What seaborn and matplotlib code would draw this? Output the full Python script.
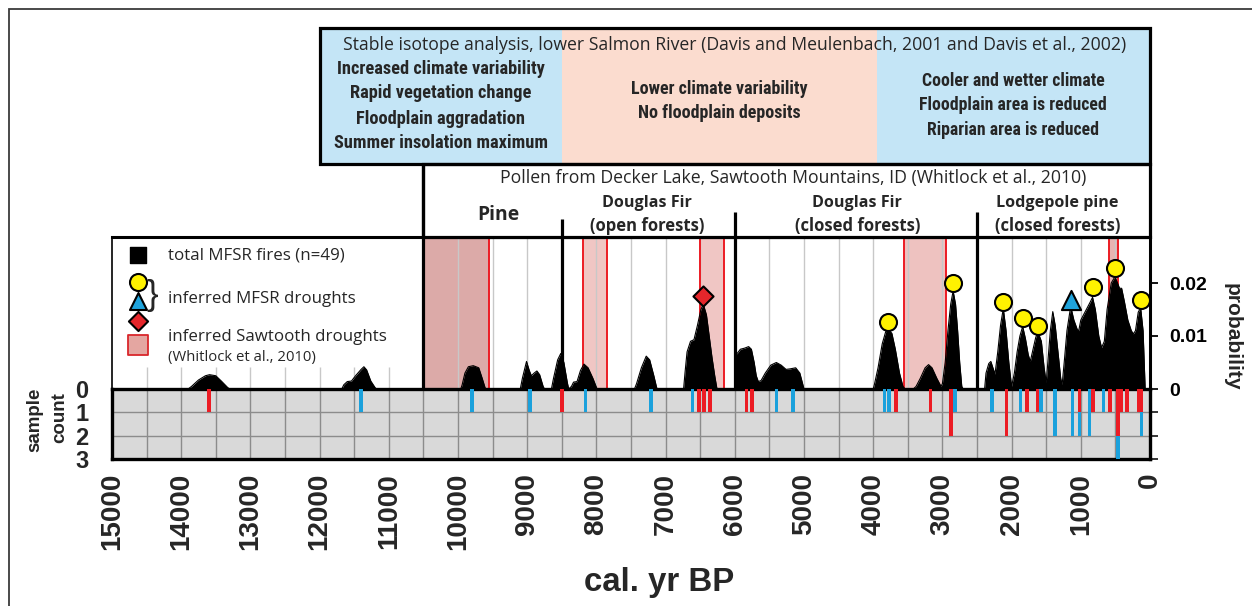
import numpy as np
import matplotlib
matplotlib.use("Agg")
import matplotlib.pyplot as plt
import matplotlib.font_manager as fm
from matplotlib.patches import Rectangle
import seaborn as sns

# ---------------- data ----------------
curve_year = [15000, 13900, 13850, 13750, 13650, 13590, 13500, 13420, 13330, 13300,
              11680, 11650, 11600, 11540, 11480, 11400, 11360, 11320, 11260, 11200, 11180,
              9960, 9940, 9900, 9850, 9780, 9700, 9650, 9610, 9600,
              9100, 9070, 9010, 8970, 8940, 8900, 8860, 8820, 8770, 8750,
              8650, 8620, 8560, 8515, 8470, 8420, 8400, 8360, 8330, 8280, 8230, 8180,
              8120, 8050, 8000, 7990,
              7450, 7420, 7350, 7280, 7230, 7170, 7130, 7120,
              6740, 6720, 6690, 6640, 6590, 6540, 6490, 6455, 6410, 6370, 6330, 6290, 6260, 6250,
              5990, 5985, 5960, 5920, 5860, 5800, 5760, 5720, 5690, 5660, 5620, 5560, 5480,
              5400, 5330, 5260, 5200, 5120, 5060, 5010, 5000,
              4000, 3980, 3930, 3870, 3820, 3780, 3730, 3680, 3620, 3570, 3540,
              3420, 3380, 3320, 3250, 3200, 3150, 3080, 3020, 3000, 2960, 2920, 2880, 2845,
              2810, 2780, 2750, 2720, 2700,
              2390, 2370, 2330, 2300, 2270, 2240, 2200, 2160, 2120, 2080, 2040, 2000, 1960,
              1920, 1880, 1840, 1800, 1760, 1730, 1690, 1650, 1615, 1570, 1530, 1500, 1470,
              1440, 1405, 1370, 1330, 1290, 1270, 1240, 1200, 1146, 1100, 1050, 1030, 1000,
              960, 900, 860, 830, 790, 740, 700, 660, 620, 560, 506, 470, 440, 410, 370, 320,
              270, 240, 210, 170, 135, 100, 75, 70, 0]
curve_prob = [0, 0, 0.0005, 0.0017, 0.0025, 0.0027, 0.0025, 0.0015, 0.0003, 0,
              0, 0.0008, 0.0014, 0.0015, 0.0025, 0.0037, 0.0042, 0.0036, 0.0015, 0.0003, 0,
              0, 0.0008, 0.0030, 0.0042, 0.0044, 0.0040, 0.0020, 0.0003, 0,
              0, 0.0020, 0.0052, 0.0035, 0.0025, 0.0030, 0.0034, 0.0027, 0.0005, 0,
              0, 0.0020, 0.0055, 0.0067, 0.0050, 0.0012, 0, 0.0005, 0.0013, 0.0014, 0.0035, 0.0047,
              0.0040, 0.0020, 0.0003, 0,
              0, 0.0010, 0.0040, 0.0062, 0.0055, 0.0025, 0.0003, 0,
              0, 0.0030, 0.0070, 0.0090, 0.0093, 0.0120, 0.0150, 0.0160, 0.0140, 0.0100, 0.0060,
              0.0025, 0.0002, 0,
              0, 0.0065, 0.0068, 0.0075, 0.0077, 0.0080, 0.0075, 0.0050, 0.0025, 0.0014, 0.0016,
              0.0030, 0.0045,
              0.0050, 0.0045, 0.0037, 0.0038, 0.0040, 0.0030, 0.0005, 0,
              0, 0.0010, 0.0040, 0.0085, 0.0108, 0.0112, 0.0105, 0.0075, 0.0030, 0.0005, 0,
              0, 0.0005, 0.0020, 0.0040, 0.0046, 0.0040, 0.0020, 0.0005, 0.0010, 0.0050, 0.0110,
              0.0160, 0.0185,
              0.0160, 0.0110, 0.0050, 0.0005, 0,
              0, 0.0030, 0.0048, 0.0052, 0.0040, 0.0028, 0.0070, 0.0120, 0.0152, 0.0110, 0.0050,
              0.0005, 0.0030,
              0.0070, 0.0100, 0.0118, 0.0095, 0.0065, 0.0052, 0.0075, 0.0098, 0.0106, 0.0090,
              0.0040, 0.0012, 0.0060,
              0.0110, 0.0146, 0.0120, 0.0070, 0.0020, 0.0008, 0.0050, 0.0110, 0.0156, 0.0130,
              0.0112, 0.0110, 0.0130,
              0.0140, 0.0155, 0.0165, 0.0173, 0.0150, 0.0100, 0.0078, 0.0090, 0.0150, 0.0200,
              0.0212, 0.0200, 0.0190, 0.0190, 0.0165, 0.0130,
              0.0110, 0.0104, 0.0110, 0.0145, 0.0153, 0.0110, 0.0020, 0, 0]

circle_year = [3782, 2842, 2120, 1839, 1614, 828, 506, 135]
circle_prob = [0.0126, 0.0200, 0.0164, 0.0134, 0.0119, 0.0193, 0.0228, 0.0167]
triangle_year = [1146]
triangle_prob = [0.0167]
diamond_year = [6455]
diamond_prob = [0.0175]

sawtooth_start = [10500, 8200, 6500, 3560, 590]
sawtooth_end = [9550, 7850, 6150, 2950, 460]

red_year = [13600, 8500, 6515, 6445, 6360, 5830, 5750, 3670, 3170, 2876, 2070, 1780,
            1620, 1020, 825, 580, 465, 415, 330, 170, 125]
red_count = [1, 1, 1, 1, 1, 1, 1, 1, 1, 2, 2, 1, 1, 1, 1, 1, 2, 1, 1, 1, 1]
blue_year = [11400, 9800, 8960, 8160, 7210, 6610, 5400, 5160, 3840, 3775, 2820, 2280,
             1870, 1575, 1373, 1123, 1020, 877, 675, 465, 125]
blue_count = [1, 1, 1, 1, 1, 1, 1, 1, 1, 1, 1, 1, 1, 1, 2, 2, 1, 2, 1, 1, 1]

pollen_bounds = [10500, 8500, 6000, 2500]
pollen_label_x = [9420, 7270, 4230, 1340]
pollen_title = "Pollen from Decker Lake, Sawtooth Mountains, ID (Whitlock et al., 2010)"

isotope_bounds = [12000, 8500, 3950, 0]
isotope_title = ("Stable isotope analysis, lower Salmon River "
                 "(Davis and Meulenbach, 2001 and Davis et al., 2002)")
isotope_left = ["Increased climate variability", "Rapid vegetation change",
                "Floodplain aggradation", "Summer insolation maximum"]
isotope_mid = ["Lower climate variability", "No floodplain deposits"]
isotope_right = ["Cooler and wetter climate", "Floodplain area is reduced",
                 "Riparian area is reduced"]

x_ticks = list(range(0, 15001, 1000))
prob_ticks = [0, 0.01, 0.02]
prob_tick_labels = ["0", "0.01", "0.02"]
count_ticks = [0, 1, 2, 3]

# ---------------- style ----------------
sns.set_theme(style="white")
names = {f.name for f in fm.fontManager.ttflist}


def pick(*cands):
    for c in cands:
        if c in names:
            return c
    return "DejaVu Sans"


F_REG = pick("Open Sans", "Noto Sans", "Lato", "DejaVu Sans")
F_NARROW = pick("Liberation Sans Narrow", "Roboto Condensed", "Liberation Sans")
F_BOLD = pick("Liberation Sans", "DejaVu Sans")
plt.rcParams["font.family"] = [F_REG, "DejaVu Sans"]

RED = "#ec1c24"
BLUE = "#1ba1dc"
W, H = 1252, 606
X0, X1 = 112, 1150
Y_HTOP, Y_PTOP, Y_ZERO, Y_CBOT = 28, 237, 389, 459


def fx(px):
    return px / W


def fy(py):
    return 1 - py / H


fig = plt.figure(figsize=(W / 100, H / 100), dpi=100)
fig.patch.set_facecolor("white")

ax_p = fig.add_axes([fx(X0), fy(Y_ZERO), fx(X1) - fx(X0), fy(Y_PTOP) - fy(Y_ZERO)])
ax_c = fig.add_axes([fx(X0), fy(Y_CBOT), fx(X1) - fx(X0), fy(Y_ZERO) - fy(Y_CBOT)], sharex=ax_p)
ax_h = fig.add_axes([fx(X0), fy(Y_PTOP), fx(X1) - fx(X0), fy(Y_HTOP) - fy(Y_PTOP)], sharex=ax_p)

ax_p.set_xlim(15000, 0)
YMAX = 0.01 * (Y_ZERO - Y_PTOP) / 53.0
ax_p.set_ylim(0, YMAX)

# ---------------- probability panel ----------------
grid_x = np.arange(500, 15000, 500)
right_grid = grid_x[grid_x < 10500]
left_grid = grid_x[grid_x > 10500]
ax_p.vlines(right_grid, 0, YMAX, color="#c8c8c8", lw=1.0, zorder=2)
ax_p.vlines(left_grid, 0, 0.0042, color="#c8c8c8", lw=1.0, zorder=2)

band_colors = ["#dcaaa8", "#f0c6c4", "#f0c6c4", "#eec2c0", "#e8b4b2"]
for s, e, c in zip(sawtooth_start, sawtooth_end, band_colors):
    ax_p.axvspan(s, e, color=c, lw=0, zorder=1)
    ax_p.axvline(s, color=RED, lw=1.4, zorder=2.5)
    ax_p.axvline(e, color=RED, lw=1.4, zorder=2.5)

ax_p.fill_between(curve_year, curve_prob, 0, color="black", lw=0, zorder=3)
sns.lineplot(x=curve_year, y=curve_prob, ax=ax_p, color="black", lw=0.8,
             sort=False, estimator=None, zorder=3)

for b in pollen_bounds:
    ax_p.axvline(b, color="black", lw=2.3, zorder=4)

sns.scatterplot(x=circle_year, y=circle_prob, ax=ax_p, marker="o", s=150,
                color="#fff200", edgecolor="black", linewidth=1.5, zorder=6, clip_on=False)
sns.scatterplot(x=triangle_year, y=triangle_prob, ax=ax_p, marker="^", s=190,
                color="#1fa3dc", edgecolor="black", linewidth=1.5, zorder=6, clip_on=False)
sns.scatterplot(x=diamond_year, y=diamond_prob, ax=ax_p, marker="D", s=105,
                color="#e5262b", edgecolor="black", linewidth=1.5, zorder=6, clip_on=False)

ax_p.set_yticks(prob_ticks)
ax_p.set_yticklabels(prob_tick_labels)
ax_p.tick_params(axis="y", left=False, labelleft=False, right=True, labelright=True,
                 length=6, width=1.3, direction="out", pad=8, labelsize=14, colors="black")
for lab in ax_p.get_yticklabels():
    lab.set_fontweight("bold")
    lab.set_family(F_BOLD)
ax_p.tick_params(axis="x", bottom=False, labelbottom=False, top=False)
ax_p.set_xlabel("")
ax_p.set_ylabel("")
for side, lw in [("left", 1.2), ("top", 2.2), ("right", 2.2)]:
    ax_p.spines[side].set_visible(True)
    ax_p.spines[side].set_linewidth(lw)
    ax_p.spines[side].set_color("black")
ax_p.spines["bottom"].set_visible(False)


def axx(px):
    return (px - X0) / (X1 - X0)


def axy(py):
    return (Y_ZERO - py) / (Y_ZERO - Y_PTOP)


# legend
tA = ax_p.transAxes
ax_p.scatter([axx(138)], [axy(255)], marker="s", s=120, color="black", transform=tA,
             zorder=7, clip_on=False)
ax_p.scatter([axx(138)], [axy(281.5)], marker="o", s=150, color="#fff200", edgecolor="black",
             linewidth=1.5, transform=tA, zorder=7, clip_on=False)
ax_p.scatter([axx(138)], [axy(301)], marker="^", s=150, color="#1fa3dc", edgecolor="black",
             linewidth=1.5, transform=tA, zorder=7, clip_on=False)
ax_p.scatter([axx(138)], [axy(320.5)], marker="D", s=95, color="#e5262b", edgecolor="black",
             linewidth=1.5, transform=tA, zorder=7, clip_on=False)
ax_p.scatter([axx(138)], [axy(345)], marker="s", s=200, color="#e4a6a1", edgecolor="#d9262b",
             linewidth=1.3, transform=tA, zorder=7, clip_on=False)
ax_p.text(axx(152), axy(295), "}", transform=tA, fontsize=25, family=F_BOLD,
          ha="center", va="center", zorder=7)
lg1 = ax_p.text(axx(168), axy(255), "total MFSR fires (n=49)", transform=tA, ha="left",
                va="center", zorder=7)
lg2 = ax_p.text(axx(168), axy(299), "inferred MFSR droughts", transform=tA, ha="left",
                va="center", zorder=7)
lg3 = ax_p.text(axx(168), axy(337), "inferred Sawtooth droughts", transform=tA, ha="left",
                va="center", zorder=7)
lg4 = ax_p.text(axx(168), axy(358), "(Whitlock et al., 2010)", transform=tA, ha="left",
                va="center", zorder=7)

# ---------------- sample count panel ----------------
ax_c.set_facecolor("#d9d9d9")
ax_c.set_ylim(3, 0)
ax_c.vlines(grid_x, 0, 3, color="#8c8c8c", lw=1.0, zorder=1)
ax_c.hlines([1, 2], 15000, 0, color="#8c8c8c", lw=1.0, zorder=1)
ax_c.bar(red_year, red_count, width=50, color=RED, lw=0, zorder=3)
red_lookup = dict(zip(red_year, red_count))
blue_bottom = [red_lookup.get(y, 0) for y in blue_year]
ax_c.bar(blue_year, blue_count, width=50, bottom=blue_bottom, color=BLUE, lw=0, zorder=3)
for s in ax_c.spines.values():
    s.set_visible(True)
    s.set_linewidth(2.4)
    s.set_color("black")
ax_c.set_yticks(count_ticks)
ax_c.set_yticklabels([str(v) for v in count_ticks])
ax_c.tick_params(axis="y", left=False, labelleft=True, right=True, labelright=False,
                 length=6, width=1.3, direction="out", pad=11, labelsize=17)
for lab in ax_c.get_yticklabels():
    lab.set_fontweight("bold")
    lab.set_family(F_BOLD)
ax_c.set_xticks(x_ticks)
ax_c.set_xticklabels([str(v) for v in x_ticks], rotation=90)
ax_c.tick_params(axis="x", bottom=False, length=0, pad=10, labelsize=20)
for lab in ax_c.get_xticklabels():
    lab.set_fontweight("bold")
    lab.set_family(F_BOLD)
ax_c.set_xlim(15000, 0)
ax_c.set_xlabel("")
ax_c.set_ylabel("")

# ---------------- header (isotope + pollen boxes) ----------------
ax_h.set_ylim(0, 1)
ax_h.axis("off")


def hy(py):
    return (Y_PTOP - py) / (Y_PTOP - Y_HTOP)


iso_colors = ["#c4e5f6", "#fbdccf", "#c4e5f6"]
for (a, b), c in zip(zip(isotope_bounds[:-1], isotope_bounds[1:]), iso_colors):
    ax_h.add_patch(Rectangle((a, hy(164)), b - a, 1 - hy(164), facecolor=c, lw=0,
                             clip_on=False, zorder=1))
ax_h.add_patch(Rectangle((isotope_bounds[0], hy(164)), isotope_bounds[-1] - isotope_bounds[0],
                         1 - hy(164), fill=False, edgecolor="black", lw=2.3, clip_on=False,
                         zorder=3))
ax_h.add_patch(Rectangle((pollen_bounds[0], 0), 0 - pollen_bounds[0], hy(164),
                         facecolor="white", edgecolor="black", lw=2.3, clip_on=False, zorder=2))
line_tops = [164, 219, 212, 212]
for b, t in zip(pollen_bounds, line_tops):
    ax_h.plot([b, b], [0, hy(t)], color="black", lw=2.3, zorder=4, clip_on=False,
              solid_capstyle="butt")

t_iso = ax_h.text(6000, hy(45), isotope_title, ha="center", va="center", zorder=5)
t_pol = ax_h.text(5150, hy(178.5), pollen_title, ha="center", va="center", zorder=5)
left_y = [69.3, 93.5, 118.5, 143.3]
mid_y = [89, 113.5]
right_y = [80.7, 105.2, 130]
tl = [ax_h.text(10250, hy(y), s, ha="center", va="center", family=F_NARROW,
                fontweight="bold", zorder=5) for s, y in zip(isotope_left, left_y)]
tm = [ax_h.text(6225, hy(y), s, ha="center", va="center", family=F_NARROW,
                fontweight="bold", zorder=5) for s, y in zip(isotope_mid, mid_y)]
tr = [ax_h.text(1975, hy(y), s, ha="center", va="center", family=F_NARROW,
                fontweight="bold", zorder=5) for s, y in zip(isotope_right, right_y)]

t_pine = ax_h.text(pollen_label_x[0], hy(215), "Pine", ha="center", va="center",
                   fontweight="bold", zorder=5)
zone_top = ["Douglas Fir", "Douglas Fir", "Lodgepole pine"]
zone_bot = ["(open forests)", "(closed forests)", "(closed forests)"]
tz_top = [ax_h.text(x, hy(202.7), s, ha="center", va="center", fontweight="bold", zorder=5)
          for x, s in zip(pollen_label_x[1:], zone_top)]
tz_bot = [ax_h.text(x, hy(226), s, ha="center", va="center", fontweight="bold", zorder=5)
          for x, s in zip(pollen_label_x[1:], zone_bot)]

# ---------------- figure-level texts ----------------
fig.text(fx(35), fy(420), "sample", rotation=90, ha="center", va="center",
         fontsize=13.5, fontweight="bold", family=F_BOLD)
fig.text(fx(60), fy(418), "count", rotation=90, ha="center", va="center",
         fontsize=13.5, fontweight="bold", family=F_BOLD)
fig.text(fx(1232), fy(337), "probability", rotation=270, ha="center", va="center",
         fontsize=15, fontweight="bold", family=F_BOLD)
t_xl = fig.text(fx(659), fy(583), "cal. yr BP", ha="center", va="center",
                fontweight="bold", family=F_BOLD, fontsize=22)
fig.add_artist(Rectangle((fx(9), -0.1), 2, fy(9) + 0.1, transform=fig.transFigure,
                         fill=False, edgecolor="#3a3a3a", lw=1.3))

# ---------------- fit text widths to the reference ----------------
renderer = fig.canvas.get_renderer()


def fit(texts, ref, width_px):
    w = ref.get_window_extent(renderer).width
    fs = ref.get_fontsize() * width_px / w
    for t in texts:
        t.set_fontsize(fs)


fit([t_iso], t_iso, 778)
fit([t_pol], t_pol, 582)
fit(tl, tl[3], 214)
fit(tm, tm[0], 178)
fit(tr, tr[1], 188)
fit([t_pine], t_pine, 42)
fit(tz_top, tz_top[0], 90)
fit(tz_bot, tz_bot[1], 125)
fit([lg1, lg2, lg3], lg3, 217)
fit([lg4], lg4, 147)
fit([t_xl], t_xl, 150)

fig.savefig("out.png", dpi=100, facecolor="white")
